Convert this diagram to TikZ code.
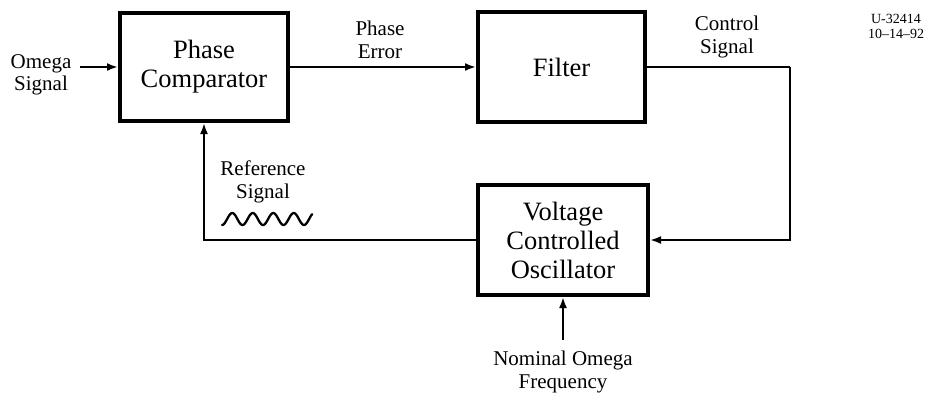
\documentclass[tikz,border=0pt]{standalone}
\usepackage{fontspec}
\setmainfont{Liberation Serif}
\usetikzlibrary{arrows.meta}
\begin{document}
\begin{tikzpicture}[x=1pt,y=-1pt,
  blk/.style={draw,line width=4pt,minimum width=#1,inner sep=0pt,align=center,font=\fontsize{26.5}{29}\selectfont},
  lbl/.style={align=center,font=\fontsize{21}{22.5}\selectfont,inner sep=0pt},
  conn/.style={line width=2.6pt,-{Latex[length=11pt,width=8pt]}},
  wire/.style={line width=2.6pt}]
\useasboundingbox (0,0) rectangle (928,392);
\node[blk=168pt,minimum height=108pt] (pc) at (204,67) {Phase\\Comparator};
\node[blk=167pt,minimum height=110pt] (filt) at (561.5,67) {Filter};
\node[blk=170pt,minimum height=110pt] (vco) at (563,240) {Voltage\\Controlled\\Oscillator};
\coordinate (omega) at (80,67);
\coordinate (turn) at (790,67);
\coordinate (nom) at (563,340);
\node[lbl] (omegalbl) at (41,75) {Omega\\Signal};
\node[lbl] (errlbl) at (380,40) {Phase\\Error};
\node[lbl] (ctrllbl) at (727,37) {Control\\Signal};
\node[lbl] (reflbl) at (263,182) {Reference\\Signal};
\node[lbl] (nomlbl) at (563,372) {Nominal Omega\\Frequency};
\node[align=center,inner sep=0pt,font=\fontsize{14}{15}\selectfont] (code) at (896,26) {U-32414\\10–14–92};
\draw[conn] (omega) -- (pc.west);
\draw[conn] (pc.east) -- (filt.west);
\draw[wire] (filt.east) -- (turn);
\draw[conn] (turn) |- (vco.east);
\draw[conn] (vco.west) -| (pc.south);
\draw[conn] (nom) -- (vco.south);
\draw[line width=2.3pt,line cap=round,line join=round] plot[domain=0:4.4,samples=120] ({222+\x*20.5},{219-6*sin(\x*360-90)});
\end{tikzpicture}
\end{document}
